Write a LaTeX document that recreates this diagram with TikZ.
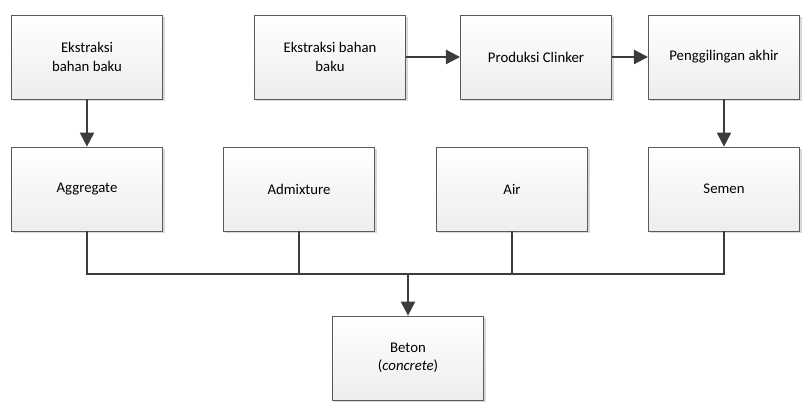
\documentclass[tikz,border=0pt]{standalone}
\usepackage{fontspec}
\setmainfont{Carlito}
\usetikzlibrary{arrows.meta,shadows}
\definecolor{linegray}{HTML}{3C3C3C}
\definecolor{edgegray}{HTML}{5A5A5A}

\begin{document}
\begin{tikzpicture}[
  x=0.025cm, y=-0.025cm,
  boxnode/.style={rectangle, draw=edgegray, line width=0.5pt, minimum width=3.78cm, minimum height=2.1cm,
    top color=white, bottom color=gray!14, align=center, font=\fontsize{10.5}{13}\selectfont,
    drop shadow={shadow xshift=0.05cm, shadow yshift=-0.05cm, fill=gray, opacity=0.3}},
  flow/.style={draw=linegray, line width=1.5pt, -{Triangle[length=10pt,width=10pt]}},
  link/.style={draw=linegray, line width=1.5pt},
  ]

\useasboundingbox (0,0) rectangle (803,405);

\node[boxnode] (ext1) at (87,57) {Ekstraksi\\bahan baku};
\node[boxnode] (ext2) at (330,57) {Ekstraksi bahan\\baku};
\node[boxnode] (clk) at (536,57) {Produksi Clinker};
\node[boxnode] (mill) at (724,57) {Penggilingan akhir};

\node[boxnode] (agg) at (87,189) {Aggregate};
\node[boxnode] (adm) at (299,189) {Admixture};
\node[boxnode] (air) at (512,189) {Air};
\node[boxnode] (sem) at (724,189) {Semen};

\node[boxnode] (beton) at (408,358) {Beton\\(\textit{concrete})};

\coordinate (bus) at (408,274);

\draw[flow] (ext1) -- (agg);
\draw[flow] (ext2) -- (clk);
\draw[flow] (clk) -- (mill);
\draw[flow] (mill) -- (sem);

\draw[link] (agg.south) |- (bus);
\draw[link] (sem.south) |- (bus);
\draw[link] (adm.south) -- (adm.south |- bus);
\draw[link] (air.south) -- (air.south |- bus);
\draw[flow] (bus) -- (beton);

\end{tikzpicture}
\end{document}
